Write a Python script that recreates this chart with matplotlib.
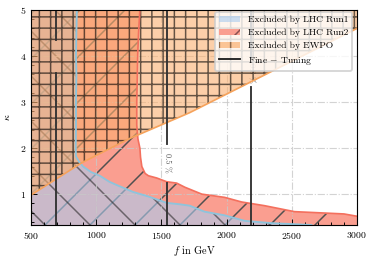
import matplotlib
matplotlib.use("Agg")
import matplotlib.pyplot as plt
from matplotlib.ticker import AutoMinorLocator, MultipleLocator
from matplotlib.patches import Patch
from matplotlib.lines import Line2D

plt.rcParams['font.family'] = 'serif'
plt.rcParams['font.serif'] = ['cmr10', 'DejaVu Serif']
plt.rcParams['mathtext.fontset'] = 'cm'
plt.rcParams['axes.formatter.use_mathtext'] = True
plt.rcParams['hatch.linewidth'] = 0.8

# ---------------- data ----------------
# LHC Run1 exclusion boundary (f in GeV, kappa)
run1_f = [852, 848, 845, 848, 845, 845, 843, 845, 870, 900, 960, 1028, 1100,
          1156, 1281, 1411, 1541, 1641, 1717, 1830, 1985, 2140, 2345, 2650]
run1_k = [5.0, 4.5, 4.0, 3.6, 3.0, 2.5, 2.0, 1.82, 1.70, 1.60, 1.48, 1.40, 1.27,
          1.20, 1.05, 0.94, 0.81, 0.78, 0.75, 0.62, 0.54, 0.42, 0.37, 0.33]
# LHC Run2 exclusion boundary
run2_f = [1335, 1325, 1318, 1315, 1311, 1311, 1320, 1335, 1340, 1350, 1375,
          1400, 1465, 1540, 1617, 1680, 1810, 1985, 2115, 2290, 2520, 2750, 2900, 3000]
run2_k = [5.0, 4.5, 4.0, 3.5, 3.0, 2.5, 2.2, 2.0, 1.8, 1.6, 1.45,
          1.40, 1.35, 1.27, 1.24, 1.15, 1.00, 0.93, 0.83, 0.75, 0.62, 0.59, 0.57, 0.52]
# EWPO exclusion boundary (excluded above)
ewpo_f = [500, 888, 1258, 1717, 3000]
ewpo_k = [0.98, 1.68, 2.21, 2.77, 4.60]
# Fine-tuning contours
ft_f = [690, 1545, 2188]
ft_labels = ['1 %', '0.5 %', '0.3 %']
ft_label_k = [3.99, 1.67, 3.64]
ft_gap_lo = [3.63, 1.24, 3.33]
ft_gap_hi = [4.35, 2.10, 3.95]

xmin, xmax = 500, 3000
ymin, ymax = 0.33, 5.0

DPI = 135
fig = plt.figure(figsize=(374 / DPI, 261 / DPI), dpi=DPI)
ax = fig.add_axes([31 / 374, 1 - 225 / 261, (357 - 31) / 374, (225 - 10) / 261])

red_face = '#fa9e90'
red_line = '#f4705e'
blue_face = '#aaccf0'
blue_line = '#8ec4dc'
orange_face = '#fbb070'
orange_line = '#f6a35c'

# Run2 region
poly2_x = [xmin, xmin] + run2_f + [xmax]
poly2_y = [0, ymax] + run2_k + [0]
ax.fill(poly2_x, poly2_y, facecolor=red_face, edgecolor='#505050', hatch='/',
        linewidth=0, zorder=1)

# fine-tuning labels (under the fills)
for f, lab, k in zip(ft_f, ft_labels, ft_label_k):
    ax.text(f, k, lab, rotation=-90, ha='center', va='center', fontsize=4.3,
            color='#555555', zorder=1.5)

# Run1 region
poly1_x = [xmin, xmin] + run1_f + [run1_f[-1]]
poly1_y = [0, ymax] + run1_k + [0]
ax.fill(poly1_x, poly1_y, facecolor=blue_face, edgecolor='#2a2a2a', hatch='\\',
        linewidth=0, alpha=0.6, zorder=2)

# EWPO region
ax.fill_between(ewpo_f, ewpo_k, ymax, facecolor=orange_face, edgecolor='black',
                hatch='++', linewidth=0, alpha=0.6, zorder=3)

# boundary lines on top
ax.plot(run2_f, run2_k, color=red_line, lw=0.9, zorder=3.3)
ax.plot(run1_f, run1_k, color=blue_line, lw=1.0, zorder=3.4)
ax.plot(ewpo_f, ewpo_k, color=orange_line, lw=0.9, zorder=3.5)

# fine-tuning lines
for f, lo, hi in zip(ft_f, ft_gap_lo, ft_gap_hi):
    ax.plot([f, f], [0, lo], color='#333333', lw=1.0, zorder=4)
    ax.plot([f, f], [hi, ymax + 1], color='#333333', lw=1.0, zorder=4)

ax.set_xlim(xmin, xmax)
ax.set_ylim(ymin, ymax)
ax.xaxis.set_major_locator(MultipleLocator(500))
ax.yaxis.set_major_locator(MultipleLocator(1))
ax.xaxis.set_minor_locator(AutoMinorLocator(5))
ax.yaxis.set_minor_locator(AutoMinorLocator(5))
ax.tick_params(which='both', direction='in', labelsize=5.2, width=0.5, pad=2.5)
ax.tick_params(which='major', length=3)
ax.tick_params(which='minor', length=1.6)
ax.grid(True, which='major', color='#c8c8c8', linestyle='-.', lw=0.6, alpha=0.8, zorder=5)
ax.set_axisbelow(False)
for s in ax.spines.values():
    s.set_linewidth(0.6)
    s.set_zorder(6)

ax.set_xlabel(r'$f$ in GeV', fontsize=5.5, labelpad=1.5)
ax.set_ylabel(r'$\kappa$', fontsize=5.5, labelpad=4)

handles = [
    Patch(facecolor=blue_face, edgecolor='#2a2a2a', hatch='\\', linewidth=0, alpha=0.6),
    Patch(facecolor=red_face, edgecolor='#8a5050', hatch='/', linewidth=0),
    Patch(facecolor=orange_face, edgecolor='#6a4a30', hatch='++', linewidth=0, alpha=0.7),
    Line2D([0], [0], color='#222222', lw=1.0),
]
labels = ['Excluded by LHC Run1', 'Excluded by LHC Run2', 'Excluded by EWPO',
          r'Fine $-$ Tuning']
leg = ax.legend(handles, labels, loc='upper right', bbox_to_anchor=(0.985, 0.991),
                borderaxespad=0, fontsize=5.1, framealpha=0.8, edgecolor='#cccccc',
                fancybox=True, handlelength=2.2, labelspacing=0.45)
leg.set_zorder(10)

fig.savefig('out.png', dpi=DPI)
